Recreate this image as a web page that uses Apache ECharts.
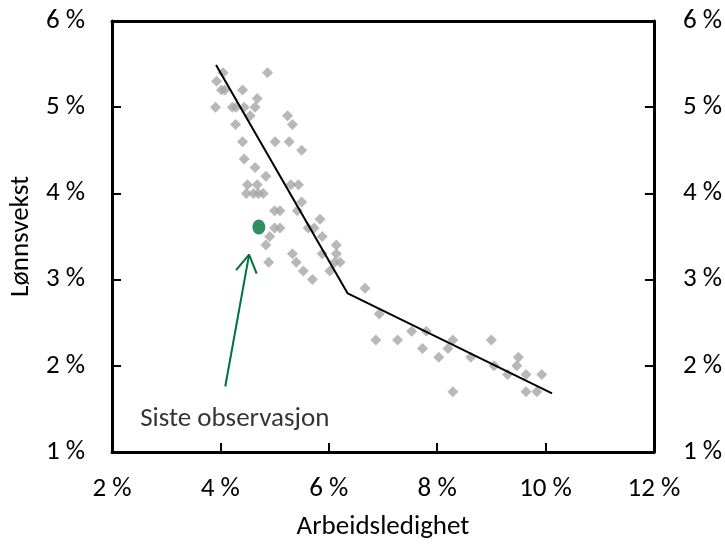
<!DOCTYPE html>
<html>
<head>
<meta charset="utf-8">
<script src="https://cdn.jsdelivr.net/npm/echarts@6/dist/echarts.min.js"></script>
<style>html,body{margin:0;padding:0;background:#fff}#c{width:725px;height:546px}</style>
</head>
<body>
<div id="c"></div>
<script>
// Arbeidsledighet (%) and Lønnsvekst (%) observations
const unemployment = [4.05,4.87,3.93,4.02,4.08,4.41,4.68,3.91,4.22,4.29,
  4.44,4.64,4.55,5.24,5.33,4.28,4.41,5.01,5.27,5.50,
  4.44,4.64,4.84,4.50,4.68,5.30,5.44,4.48,4.61,4.70,
  4.79,5.50,5.42,5.00,5.10,5.84,5.62,5.73,5.00,5.10,
  5.88,4.91,6.14,4.84,5.33,5.88,6.14,5.40,4.89,6.11,
  6.21,5.53,6.02,5.70,
  6.67,6.93,6.87,7.27,7.53,7.80,7.73,8.03,8.20,8.29,8.29,8.62,9.00,9.05,9.30,9.47,9.50,9.64,9.64,9.84,9.93];
const wageGrowth = [5.4,5.4,5.3,5.2,5.2,5.2,5.1,5.0,5.0,5.0,
  5.0,5.0,4.9,4.9,4.8,4.8,4.6,4.6,4.6,4.5,
  4.4,4.3,4.2,4.1,4.1,4.1,4.1,4.0,4.0,4.0,
  4.0,3.9,3.8,3.8,3.8,3.7,3.6,3.6,3.6,3.6,
  3.5,3.5,3.4,3.4,3.3,3.3,3.3,3.2,3.2,3.2,
  3.2,3.1,3.1,3.0,
  2.9,2.6,2.3,2.3,2.4,2.4,2.2,2.1,2.2,2.3,1.7,2.1,2.3,2.0,1.9,2.0,2.1,1.9,1.7,1.7,1.9];
// Piecewise curve (x, y)
const curveX = [3.92, 6.35, 10.12];
const curveY = [5.49, 2.84, 1.68];
// Latest observation
const latestObs = [4.71, 3.61];
// Arrow annotation (data coordinates)
const arrowShaftX = [4.09, 4.53];
const arrowShaftY = [1.76, 3.29];
const arrowHeadX = [4.29, 4.53, 4.67];
const arrowHeadY = [3.11, 3.29, 3.07];
const annotationText = 'Siste observasjon';
const annotationPos = [2.52, 1.38];
// Axes
const xMin = 2, xMax = 12, xStep = 2;
const yMin = 1, yMax = 6, yStep = 1;
const xName = 'Arbeidsledighet';
const yName = 'Lønnsvekst';

const FONT = 'Carlito, Lato, sans-serif';
const FS = 27;
const zip = (a, b) => a.map((v, i) => [v, b[i]]);

const chart = echarts.init(document.getElementById('c'), null, {renderer: 'canvas'});
const axisLine = {show: true, lineStyle: {color: '#000', width: 3}};
const axisTick = {show: true, inside: true, length: 9, lineStyle: {color: '#000', width: 2}};
chart.setOption({
  animation: false,
  backgroundColor: '#fff',
  grid: {left: 105, right: 70, top: 21, bottom: 82, containLabel: false},
  xAxis: [{
    type: 'value', min: xMin, max: xMax, interval: xStep, position: 'bottom',
    axisLine, axisTick, splitLine: {show: false},
    axisLabel: {formatter: '{value} %', fontFamily: FONT, fontSize: FS, color: '#000', margin: 24},
    name: xName, nameLocation: 'middle', nameGap: 62,
    nameTextStyle: {fontFamily: FONT, fontSize: FS, color: '#000'}
  }, {
    type: 'value', min: xMin, max: xMax, interval: xStep, position: 'top',
    axisLine, axisTick: {show: false}, axisLabel: {show: false}, splitLine: {show: false}
  }],
  yAxis: [{
    type: 'value', min: yMin, max: yMax, interval: yStep, position: 'left',
    axisLine, axisTick, splitLine: {show: false},
    axisLabel: {formatter: '{value} %', fontFamily: FONT, fontSize: FS, color: '#000', margin: 27},
    name: yName, nameLocation: 'middle', nameGap: 70,
    nameTextStyle: {fontFamily: FONT, fontSize: FS, color: '#000'}
  }, {
    type: 'value', min: yMin, max: yMax, interval: yStep, position: 'right',
    axisLine, axisTick, splitLine: {show: false},
    axisLabel: {formatter: '{value} %', fontFamily: FONT, fontSize: FS, color: '#000', margin: 29}
  }],
  series: [
    {
      type: 'scatter', xAxisIndex: 0, yAxisIndex: 0,
      symbol: 'diamond', symbolSize: 11,
      itemStyle: {color: '#a6a6a6'},
      data: zip(unemployment, wageGrowth), z: 2
    },
    {
      type: 'line', xAxisIndex: 0, yAxisIndex: 0,
      data: zip(curveX, curveY), symbol: 'none',
      lineStyle: {color: '#000', width: 2}, z: 3
    },
    {
      type: 'scatter', xAxisIndex: 0, yAxisIndex: 0,
      symbol: 'circle', symbolSize: [13, 15],
      itemStyle: {color: '#00703c'},
      data: [latestObs], z: 4
    },
    {
      type: 'line', xAxisIndex: 0, yAxisIndex: 0,
      data: zip(arrowShaftX, arrowShaftY), symbol: 'none',
      lineStyle: {color: '#00703c', width: 2}, z: 4
    },
    {
      type: 'line', xAxisIndex: 0, yAxisIndex: 0,
      data: zip(arrowHeadX, arrowHeadY), symbol: 'none',
      lineStyle: {color: '#00703c', width: 2}, z: 4
    },
    {
      type: 'scatter', xAxisIndex: 0, yAxisIndex: 0,
      symbolSize: 0, silent: true,
      data: [annotationPos],
      label: {show: true, position: 'right', distance: 0, formatter: annotationText,
        fontFamily: FONT, fontSize: FS, color: '#000'}
    }
  ]
});
</script>
</body>
</html>
